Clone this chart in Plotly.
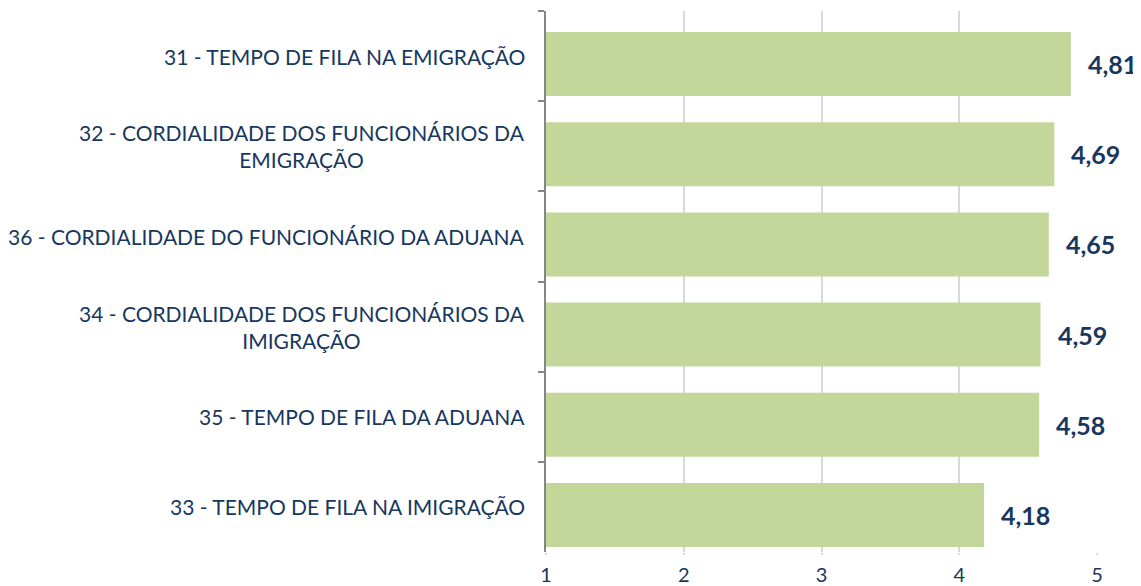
import plotly.graph_objects as go

categories = [
    "31 - TEMPO DE FILA NA EMIGRAÇÃO",
    "32 - CORDIALIDADE DOS FUNCIONÁRIOS DA<br>EMIGRAÇÃO",
    "36 - CORDIALIDADE DO FUNCIONÁRIO DA ADUANA",
    "34 - CORDIALIDADE DOS FUNCIONÁRIOS DA<br>IMIGRAÇÃO",
    "35 - TEMPO DE FILA DA ADUANA",
    "33 - TEMPO DE FILA NA IMIGRAÇÃO",
]
values = [4.81, 4.69, 4.65, 4.59, 4.58, 4.18]
value_labels = ["4,81", "4,69", "4,65", "4,59", "4,58", "4,18"]
x_ticks = [1, 2, 3, 4, 5]
x_start = 1

NAVY = "#17375E"
GREEN = "#C4D79B"
FONT = "Lato"

fig = go.Figure()
fig.add_trace(go.Bar(
    x=[v - x_start for v in values], y=categories, orientation="h",
    base=x_start, marker=dict(color=GREEN, line=dict(width=0)),
    width=0.71, offset=-0.266,
    hoverinfo="skip",
))

annotations = []
for c in categories:
    annotations.append(dict(
        x=0, xref="paper", y=c, yref="y", xanchor="right", yanchor="middle",
        xshift=-19, text=c, showarrow=False, align="center",
        font=dict(family=FONT, size=21, color=NAVY),
    ))
for c, v, t in zip(categories, values, value_labels):
    annotations.append(dict(
        x=v, xref="x", y=c, yref="y", xanchor="left", yanchor="middle",
        xshift=15, yshift=-8, text=t, showarrow=False,
        font=dict(family=FONT, size=25, color=NAVY, weight="bold"),
    ))

fig.update_layout(
    width=1141, height=586,
    margin=dict(l=538, r=52, t=3, b=42, autoexpand=False),
    paper_bgcolor="white", plot_bgcolor="white",
    showlegend=False,
    annotations=annotations,
    xaxis=dict(
        range=[1, 5], tickvals=x_ticks, ticktext=[str(t) for t in x_ticks],
        showgrid=True, gridcolor="#D9D9D9", gridwidth=1.5,
        zeroline=False, showline=False, automargin=False,
        ticks="outside", ticklen=2, tickcolor="#D9D9D9", tickwidth=1.5,
        ticklabelstandoff=3,
        tickfont=dict(family=FONT, size=20, color=NAVY),
    ),
    yaxis=dict(
        autorange="reversed", type="category", automargin=False,
        showticklabels=False, showgrid=False, zeroline=False,
        showline=True, linecolor="#868686", linewidth=1.5,
        ticks="outside", tickson="boundaries", ticklen=6,
        tickcolor="#868686", tickwidth=1.5,
    ),
)

fig.write_html("out.html")
